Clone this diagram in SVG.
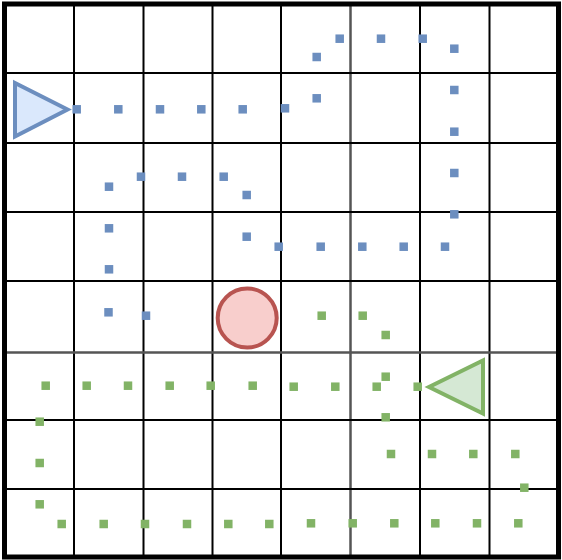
<svg xmlns="http://www.w3.org/2000/svg" xmlns:xlink="http://www.w3.org/1999/xlink" width="562" height="560" viewBox="0 0 562 560">
<style>
.grid line{stroke:#000;stroke-width:2}
.grid .mid{stroke:#555;stroke-width:2.5}
.b{fill:#6c8ebf}
.g{fill:#82b366}
</style>
<defs>
<rect id="d" x="-4.25" y="-4.25" width="8.5" height="8.5"/>
</defs>
<rect width="562" height="560" fill="#fff"/>
<g class="grid">
<line x1="74" y1="4" x2="74" y2="557"/>
<line x1="143.5" y1="4" x2="143.5" y2="557"/>
<line x1="212.5" y1="4" x2="212.5" y2="557"/>
<line x1="281" y1="4" x2="281" y2="557"/>
<line class="mid" x1="350.5" y1="4" x2="350.5" y2="557"/>
<line x1="420" y1="4" x2="420" y2="557"/>
<line x1="489.5" y1="4" x2="489.5" y2="557"/>
<line x1="4" y1="73" x2="558" y2="73"/>
<line x1="4" y1="143" x2="558" y2="143"/>
<line x1="4" y1="212" x2="558" y2="212"/>
<line x1="4" y1="281" x2="558" y2="281"/>
<line class="mid" x1="4" y1="352.5" x2="558" y2="352.5"/>
<line x1="4" y1="420" x2="558" y2="420"/>
<line x1="4" y1="489" x2="558" y2="489"/>
<rect x="4.5" y="4" width="554" height="553" fill="none" stroke="#000" stroke-width="5"/>
</g>
<g id="connectors">
<g id="blue-path" class="b">
<use href="#d" x="76.7" y="109.3"/>
<use href="#d" x="118.3" y="109.3"/>
<use href="#d" x="160" y="109.3"/>
<use href="#d" x="201.3" y="109.3"/>
<use href="#d" x="242.7" y="109.3"/>
<use href="#d" x="285" y="108.3"/>
<use href="#d" x="316.7" y="98.3"/>
<use href="#d" x="316.7" y="57"/>
<use href="#d" x="339.7" y="38.7"/>
<use href="#d" x="381" y="38.7"/>
<use href="#d" x="422.7" y="38.7"/>
<use href="#d" x="454.3" y="48.7"/>
<use href="#d" x="454.3" y="90"/>
<use href="#d" x="454.3" y="131.7"/>
<use href="#d" x="454.3" y="173"/>
<use href="#d" x="454.3" y="214.3"/>
<use href="#d" x="445" y="246.7"/>
<use href="#d" x="403.7" y="246.7"/>
<use href="#d" x="362.3" y="246.7"/>
<use href="#d" x="320.7" y="246.7"/>
<use href="#d" x="278.7" y="246.7"/>
<use href="#d" x="246.7" y="236.7"/>
<use href="#d" x="246.7" y="195"/>
<use href="#d" x="223.7" y="176.7"/>
<use href="#d" x="182" y="176.7"/>
<use href="#d" x="141" y="176.7"/>
<use href="#d" x="109" y="186.7"/>
<use href="#d" x="109" y="228.3"/>
<use href="#d" x="109" y="269.3"/>
<use href="#d" x="108.5" y="312.3"/>
<use href="#d" x="146" y="315.7"/>
</g>
<g id="green-path" class="g">
<use href="#d" x="45.7" y="385.7"/>
<use href="#d" x="86.7" y="385.7"/>
<use href="#d" x="128" y="385.7"/>
<use href="#d" x="169.7" y="385.7"/>
<use href="#d" x="210.7" y="385.7"/>
<use href="#d" x="252.7" y="385.7"/>
<use href="#d" x="293.7" y="386.7"/>
<use href="#d" x="335.3" y="386.7"/>
<use href="#d" x="376.7" y="386.7"/>
<use href="#d" x="417.7" y="386.7"/>
<use href="#d" x="39.7" y="421.7"/>
<use href="#d" x="39.7" y="463"/>
<use href="#d" x="39.7" y="504.3"/>
<use href="#d" x="61.7" y="524"/>
<use href="#d" x="103.7" y="524"/>
<use href="#d" x="145" y="524"/>
<use href="#d" x="187" y="524"/>
<use href="#d" x="228.3" y="524"/>
<use href="#d" x="269.3" y="524"/>
<use href="#d" x="311" y="523.3"/>
<use href="#d" x="352.7" y="523.3"/>
<use href="#d" x="394.3" y="523.3"/>
<use href="#d" x="435.3" y="523.3"/>
<use href="#d" x="477" y="523.3"/>
<use href="#d" x="518.3" y="523.3"/>
<use href="#d" x="524.3" y="487.7"/>
<use href="#d" x="515.3" y="454"/>
<use href="#d" x="473.3" y="454"/>
<use href="#d" x="432" y="454"/>
<use href="#d" x="391" y="454"/>
<use href="#d" x="385.7" y="417.3"/>
<use href="#d" x="321.7" y="315.7"/>
<use href="#d" x="362.7" y="315.7"/>
<use href="#d" x="385.7" y="335"/>
<use href="#d" x="385.7" y="376.7"/>
</g>
</g>
<g id="blue-triangle">
<polygon points="15,83 15,136.5 67.5,109.5" fill="#dae8fc" stroke="#6c8ebf" stroke-width="4" stroke-linejoin="miter"/>
</g>
<g id="green-triangle">
<polygon points="483,360.5 483,413.5 429,387" fill="#d5e8d4" stroke="#82b366" stroke-width="4" stroke-linejoin="miter"/>
</g>
<g id="red-circle">
<circle cx="247.2" cy="318" r="29.5" fill="#f8cecc" stroke="#b85450" stroke-width="4"/>
</g>
</svg>
